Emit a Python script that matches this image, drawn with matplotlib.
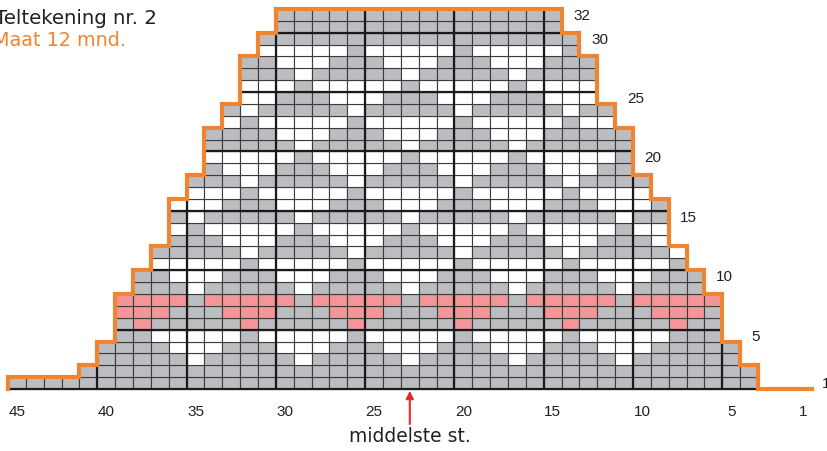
#!/usr/bin/env python3
# knitting chart: yoke pattern, stitch 45 on the left, row 1 at the bottom
import matplotlib
matplotlib.use("Agg")
import matplotlib.pyplot as plt
from matplotlib.patches import Rectangle
from matplotlib.collections import LineCollection

# one string per row, top row (32) first, columns = stitch 45 ... 1
# g = grey, w = white, p = pink, . = no stitch (groups of 5 stitches)
chart_rows = [
    "..... ..... ..... ggggg ggggg ggggg g.... ..... .....",  # 32
    "..... ..... ..... ggggg ggggg ggggg g.... ..... .....",  # 31
    "..... ..... ....g ggggg ggggg ggggg gg... ..... .....",  # 30
    "..... ..... ....w wwwwg wwwww gwwww wg... ..... .....",  # 29
    "..... ..... ...gg wwwgg gwwwg ggwww ggg.. ..... .....",  # 28
    "..... ..... ...gg gwggg ggwgg gggwg ggg.. ..... .....",  # 27
    "..... ..... ...ww wgwww wwgww wwwgw www.. ..... .....",  # 26
    "..... ..... ...ww gggww wgggw wwggg www.. ..... .....",  # 25
    "..... ..... ..gwg ggggw ggggg wgggg gwgg. ..... .....",  # 24
    "..... ..... ..wgw wwwwg wwwww gwwww wgww. ..... .....",  # 23
    "..... ..... .gggg wwwgg gwwwg ggwww ggggg ..... .....",  # 22
    "..... ..... .gggg gwggg ggwgg gggwg ggggg ..... .....",  # 21
    "..... ..... .wwww wgwww wwgww wwwgw wwwwg ..... .....",  # 20
    "..... ..... .gwww gggww wgggw wwggg wwwgg ..... .....",  # 19
    "..... ..... gggwg ggggw ggggg wgggg gwggg g.... .....",  # 18
    "..... ..... wwwgw wwwwg wwwww gwwww wgwww w.... .....",  # 17
    "..... ....w wwggg wwwgg gwwwg ggwww gggww wg... .....",  # 16
    "..... ....g wgggg gwggg ggwgg gggwg ggggw gg... .....",  # 15
    "..... ....w gwwww wgwww wwgww wwwgw wwwwg ww... .....",  # 14
    "..... ....g ggwww gggww wgggw wwggg wwwgg gw... .....",  # 13
    "..... ...gg gggwg ggggw ggggg wgggg gwggg ggw.. .....",  # 12
    "..... ...ww wwwgw wwwwg wwwww gwwww wgwww wwg.. .....",  # 11
    "..... ..ggw wwggg wwwgg gwwwg ggwww gggww wggg. .....",  # 10
    "..... ..ggg wgggg gwggg ggwgg gggwg ggggw gggg. .....",  # 9
    "..... .pppp gpppp pgppp ppgpp pppgp ppppg ppppp .....",  # 8
    "..... .pppg ggppp gggpp pgggp ppggg pppgg gpppg .....",  # 7
    "..... .gpgg gggpg ggggp ggggg pgggg gpggg ggpgg .....",  # 6
    "..... .ggww wwwgw wwwwg wwwww gwwww wgwww wwggg .....",  # 5
    "..... ggggw wwggg wwwgg gwwwg ggwww gggww wgggg g....",  # 4
    "..... ggggg wgggg gwggg ggwgg gggwg ggggw ggggg g....",  # 3
    "....g ggggg ggggg ggggg ggggg ggggg ggggg ggggg gg...",  # 2
    "ggggg ggggg ggggg ggggg ggggg ggggg ggggg ggggg gg...",  # 1
]
row_labels = [1, 5, 10, 15, 20, 25, 30, 32]
stitch_labels = [45, 40, 35, 30, 25, 20, 15, 10, 5, 1]
middle_stitch = 23
title = "Teltekening nr. 2"
subtitle = "Maat 12 mnd."
middle_text = "middelste st."

colors = {"g": "#bcbdc1", "w": "#ffffff", "p": "#f4959a"}
orange = "#ef8532"
n_stitches = 45

# bottom row first
rows = [r.replace(" ", "") for r in chart_rows][::-1]

fig = plt.figure(figsize=(8.28, 4.52), dpi=100)
ax = fig.add_axes([0, 0, 1, 1])
ax.set_xlim(45.95, -0.42)
ax.set_ylim(-5.22, 32.84)
ax.axis("off")

# cells
extents = []
for k, row in enumerate(rows):
    used = [n_stitches - i for i, c in enumerate(row) if c != "."]
    extents.append((max(used), min(used)))
    for i, c in enumerate(row):
        if c == ".":
            continue
        s = n_stitches - i
        ax.add_patch(Rectangle((s - 0.5, k), 1, 1, facecolor=colors[c],
                               edgecolor="#3c3c3c", linewidth=0.8, zorder=1))

# heavy lines every 5 stitches / 5 rows
segs = []
for b in range(40, 0, -5):
    x = b + 0.5
    for k, (hi, lo) in enumerate(extents):
        if lo <= b + 1 and hi >= b:
            segs.append([(x, k), (x, k + 1)])
for y in range(0, len(rows), 5):
    near = [extents[k] for k in (y - 1, y) if 0 <= k < len(rows)]
    hi = max(e[0] for e in near)
    lo = min(e[1] for e in near)
    segs.append([(hi + 0.5, y), (lo - 0.5, y)])
ax.add_collection(LineCollection(segs, colors="#1a1a1a", linewidths=1.6, zorder=2))

# orange outline
pts = []
for k, (hi, lo) in enumerate(extents):
    pts += [(hi + 0.5, k), (hi + 0.5, k + 1)]
for k in range(len(extents) - 1, -1, -1):
    hi, lo = extents[k]
    pts += [(lo - 0.5, k + 1), (lo - 0.5, k)]
tail_end = 0.48
pts.append((tail_end, 0))
xs, ys = zip(*pts)
ax.plot(xs, ys, color=orange, lw=3, solid_joinstyle="miter", zorder=3)

# row numbers on the right
num_font = ["Liberation Sans Narrow", "Liberation Sans"]
for r in row_labels:
    k = r - 1
    if r == 1:
        x = tail_end - 0.55
    else:
        x = min(extents[k][1], extents[k - 1][1]) - 0.5 - 0.65
    ax.text(x, k + 0.5, str(r), ha="left", va="center", fontsize=11,
            color="#231f20", family=num_font)

# stitch numbers at the bottom
for s in stitch_labels:
    ax.text(s, -1.85, str(s), ha="center", va="center", fontsize=11,
            color="#231f20", family=num_font)

# middle stitch arrow
ax.annotate("", xy=(middle_stitch, -0.15), xytext=(middle_stitch, -2.95),
            arrowprops=dict(arrowstyle="-|>", color="#e52a2f", lw=1.5,
                            mutation_scale=11, shrinkA=0, shrinkB=0))
ax.text(middle_stitch, -3.95, middle_text, ha="center", va="center",
        fontsize=13.5, color="#231f20")

fig.text(157 / 828, 1 - 18 / 452, title, ha="right", va="center",
         fontsize=14.2, color="#231f20")
fig.text(126 / 828, 1 - 40 / 452, subtitle, ha="right", va="center",
         fontsize=13.8, color=orange)

fig.savefig("out.png", dpi=100)
